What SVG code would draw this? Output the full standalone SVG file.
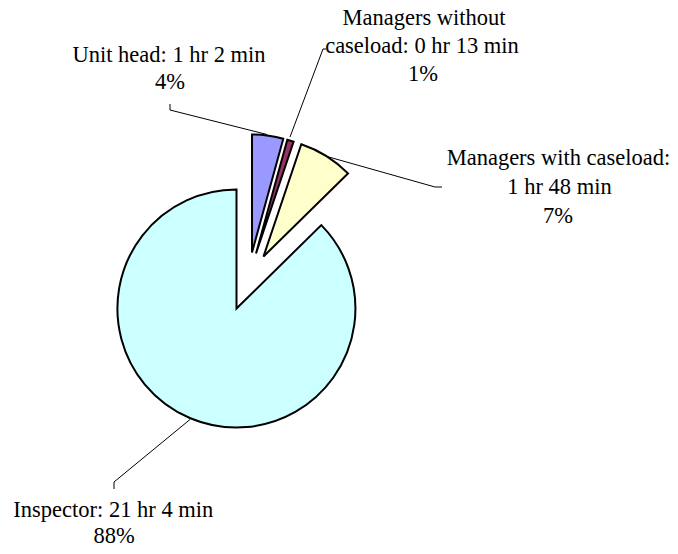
<svg xmlns="http://www.w3.org/2000/svg" width="678" height="554" viewBox="0 0 678 554">
<style>
.slice{stroke:#000;stroke-width:2;stroke-linejoin:miter}
.lbl{font-family:"Liberation Serif","Times New Roman",serif;font-size:22.5px;fill:#000;text-anchor:middle}
.lead{fill:none;stroke:#000;stroke-width:1}
</style>
<rect width="678" height="554" fill="#fff"/>
<g id="inspector">
<path class="slice" fill="#CCFFFF" d="M236.5 308.5 L321.3 225.1 A119 119 0 1 1 236.5 189.5 Z"/>
</g>
<g id="unit-head">
<path class="slice" fill="#9999FF" d="M252 252.5 L252 134.5 A118 118 0 0 1 283.3 138.7 Z"/>
</g>
<g id="managers-without">
<path class="slice" fill="#993366" d="M256 253.5 L287.3 139.7 A118 118 0 0 1 293.6 141.6 Z"/>
</g>
<g id="managers-with">
<path class="slice" fill="#FFFFCC" d="M263.5 256.5 L301.3 144.2 A118.5 118.5 0 0 1 348 173.4 Z"/>
</g>
<g id="connectors">
<polyline class="lead" points="170,104 170,110 267,134.5"/>
<polyline class="lead" points="326,49 323,49 290,137"/>
<polyline class="lead" points="442,187 435,187 327,156.5"/>
<polyline class="lead" points="114,489 114,482 190,419.5"/>
</g>
<g id="label-unit-head">
<text class="lbl" x="169" y="62">Unit head: 1 hr 2 min</text>
<text class="lbl" x="170" y="89">4%</text>
</g>
<g id="label-managers-without">
<text class="lbl" x="424" y="25">Managers without</text>
<text class="lbl" x="422" y="53">caseload: 0 hr 13 min</text>
<text class="lbl" x="423" y="81">1%</text>
</g>
<g id="label-managers-with">
<text class="lbl" x="558.5" y="165">Managers with caseload:</text>
<text class="lbl" x="559.5" y="194">1 hr 48 min</text>
<text class="lbl" x="558" y="222.7">7%</text>
</g>
<g id="label-inspector">
<text class="lbl" x="113.3" y="516.7">Inspector: 21 hr 4 min</text>
<text class="lbl" x="114" y="543">88%</text>
</g>
</svg>
